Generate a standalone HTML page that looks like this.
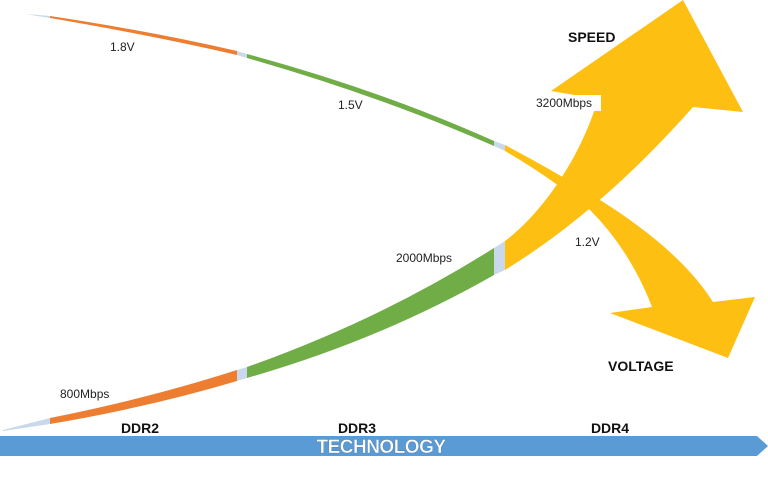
<!DOCTYPE html>
<html>
<head>
<meta charset="utf-8">
<style>
html,body{margin:0;padding:0;background:#fff;}
svg{display:block;}
text{font-family:"Liberation Sans",Arial,sans-serif;}
</style>
</head>
<body>
<svg id="chart" width="768" height="479" viewBox="0 0 768 479" xmlns="http://www.w3.org/2000/svg">
  <g>
    <path d="M25,14 L50,16 L50,18 Z" fill="#c9d8ea"/>
    <path d="M50,16 Q150,31 237,51 L237,55 Q150,35 50,18 Z" fill="#ed7d31"/>
    <path d="M237,51 L247,54 L247,58 L237,55 Z" fill="#c9d8ea"/>
    <path d="M247,54 Q380,90 494,141 L494,146 Q380,96 247,58 Z" fill="#70ad47"/>
    <path d="M494,141 L505,145 L505,151 L494,146 Z" fill="#c9d8ea"/>
    <path d="M505,145 Q560,174 600,200 Q680,250 713,302 L755,297 L728,358 L610,313 L652,307 Q630,250 590,210 Q550,177 505,151 Z" fill="#fdbf12"/>
  </g>
  <g>
    <path d="M3,430 L50,418 L50,424 L3,431 Z" fill="#c9d8ea"/>
    <path d="M50,418 Q150,398 237,370 L237,381 Q150,407 50,424 Z" fill="#ed7d31"/>
    <path d="M237,370 L247,367 L247,378 L237,381 Z" fill="#c9d8ea"/>
    <path d="M247,367 Q380,320 494,248 L494,275 Q380,340 247,378 Z" fill="#70ad47"/>
    <path d="M494,248 L505,241 L505,270 L494,275 Z" fill="#c9d8ea"/>
    <path d="M505,241 C540,215 580,160 598,99 L551,91 L683,0 L743,112 L693,107 Q601,211 505,270 Z" fill="#fdbf12"/>
  </g>
  <g id="labels"></g>
  <text x="568" y="42" font-size="14" font-weight="bold" fill="#111">SPEED</text>
  <text x="608" y="371" font-size="14" font-weight="bold" fill="#111">VOLTAGE</text>
  <g>
    <path d="M0,436 L757,436 L768,446 L757,456 L0,456 Z" fill="#5b9bd5"/>
    <text x="381" y="453" font-size="19" font-weight="bold" fill="#fff" text-anchor="middle" style="letter-spacing:-0.5px" stroke="#3a6a99" stroke-width="0.3">TECHNOLOGY</text>
  </g>
  <g id="gens"></g>
</svg>
<script>
const generations = ["DDR2", "DDR3", "DDR4"];
const speeds = [800, 2000, 3200];
const voltages = [1.8, 1.5, 1.2];

const NS = "http://www.w3.org/2000/svg";
const genX = [140, 357, 610];
const speedPos = [[60, 398], [396, 262], [536, 107]];
const voltPos = [[110, 51], [338, 109], [575, 246]];

const gG = document.getElementById("gens");
generations.forEach((g, i) => {
  const t = document.createElementNS(NS, "text");
  
  
  t.setAttribute("x", genX[i]);
  t.setAttribute("y", 433);
  t.setAttribute("font-size", "14");
  t.setAttribute("font-weight", "bold");
  t.setAttribute("text-anchor", "middle");
  t.setAttribute("fill", "#111");
  t.textContent = g;
  gG.appendChild(t);
});

const lG = document.getElementById("labels");
speeds.forEach((s, i) => {
  const t = document.createElementNS(NS, "text");
  
  
  t.setAttribute("x", speedPos[i][0]);
  t.setAttribute("y", speedPos[i][1]);
  t.setAttribute("font-size", "12");
  t.setAttribute("fill", "#222");
  t.textContent = s + "Mbps";
  if (i === 2) {
    const r = document.createElementNS(NS, "rect");
    
    
    r.setAttribute("x", speedPos[i][0] - 2);
    r.setAttribute("y", speedPos[i][1] - 12);
    r.setAttribute("width", 67);
    r.setAttribute("height", 16);
    r.setAttribute("fill", "#fff");
    lG.appendChild(r);
  }
  lG.appendChild(t);
});
voltages.forEach((v, i) => {
  const t = document.createElementNS(NS, "text");
  
  
  t.setAttribute("x", voltPos[i][0]);
  t.setAttribute("y", voltPos[i][1]);
  t.setAttribute("font-size", "12");
  t.setAttribute("fill", "#222");
  t.textContent = v.toFixed(1) + "V";
  lG.appendChild(t);
});
</script>
</body>
</html>
